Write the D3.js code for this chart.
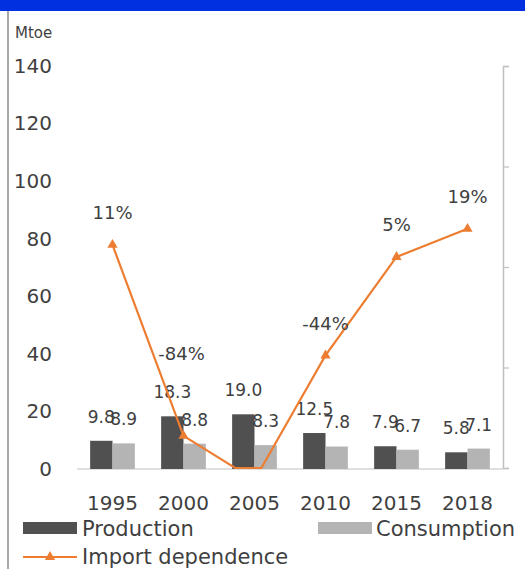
<!DOCTYPE html>
<html>
<head>
<meta charset="utf-8">
<script src="https://cdn.jsdelivr.net/npm/d3@7"></script>
<style>
  html, body { margin: 0; padding: 0; background: #fff; }
  svg { display: block; }
  text { font-family: "DejaVu Sans", sans-serif; fill: #3f3f3f; }
</style>
</head>
<body>
<script>
const years = ["1995", "2000", "2005", "2010", "2015", "2018"];
const production = [9.8, 18.3, 19.0, 12.5, 7.9, 5.8];
const consumption = [8.9, 8.8, 8.3, 7.8, 6.7, 7.1];
const importDependence = [11, -84, -106, -44, 5, 19];
const leftTicks = [0, 20, 40, 60, 80, 100, 120, 140];
const rightTicks = [-100, -50, 0, 50, 100];
const seriesNames = ["Production", "Consumption", "Import dependence"];

const W = 525, H = 569;
const plot = { left: 77, right: 503, top: 66, bottom: 469 };
const colors = { Production: "#505050", Consumption: "#b4b4b4", line: "#ed7d31" };

const svg = d3.select("body").append("svg").attr("width", W).attr("height", H);

// header bar & frame
svg.append("rect").attr("x", 0).attr("y", 0).attr("width", W).attr("height", 11).attr("fill", "#0030e0");
svg.append("line").attr("x1", 8).attr("x2", 8).attr("y1", 11).attr("y2", H)
  .attr("stroke", "#a8a8a8").attr("stroke-width", 2);

const x = d3.scaleBand().domain(years).range([plot.left, plot.right]).paddingInner(0.37).paddingOuter(0.185);
const xs = d3.scaleBand().domain(["Production", "Consumption"]).range([0, x.bandwidth()]);
const yL = d3.scaleLinear().domain([0, 140]).range([plot.bottom, plot.top]);
const yR = d3.scaleLinear().domain([-100, 100]).range([plot.bottom - 1, plot.top]);

// left axis (labels only)
const gL = svg.append("g").attr("transform", `translate(52,0)`)
  .call(d3.axisLeft(yL).tickValues(leftTicks).tickSize(0).tickPadding(0));
gL.select(".domain").remove();
gL.selectAll("text").attr("font-size", 20).attr("fill", "#3f3f3f")
  .style("font-family", '"DejaVu Sans", sans-serif');

svg.append("text").attr("x", 15).attr("y", 38).attr("font-size", 15).text("Mtoe");

// right axis (no labels)
const gR = svg.append("g").attr("transform", `translate(${plot.right},0)`)
  .call(d3.axisRight(yR).tickValues(rightTicks).tickSize(6).tickFormat(""));
gR.select(".domain").attr("stroke", "#c0c0c0").attr("stroke-width", 1.5);
gR.selectAll(".tick line").attr("stroke", "#c0c0c0").attr("stroke-width", 1.2);

// baseline
svg.append("line").attr("x1", plot.left).attr("x2", plot.right)
  .attr("y1", yL(0)).attr("y2", yL(0)).attr("stroke", "#d4d4d4").attr("stroke-width", 1.5);

// bars
const rows = years.map((yr, i) => ({ year: yr, Production: production[i], Consumption: consumption[i] }));
const groups = svg.append("g").selectAll("g").data(rows).join("g")
  .attr("transform", d => `translate(${x(d.year)},0)`);
groups.selectAll("rect").data(d => ["Production", "Consumption"].map(k => ({ key: k, value: d[k] })))
  .join("rect")
  .attr("x", d => xs(d.key)).attr("width", xs.bandwidth())
  .attr("y", d => yL(d.value)).attr("height", d => yL(0) - yL(d.value))
  .attr("fill", d => colors[d.key]);
groups.selectAll("text.val").data(d => ["Production", "Consumption"].map(k => ({ key: k, value: d[k] })))
  .join("text").attr("class", "val")
  .attr("x", d => xs(d.key) + xs.bandwidth() / 2)
  .attr("y", d => yL(d.value) - 24)
  .attr("dy", "0.35em").attr("text-anchor", "middle").attr("font-size", 17)
  .text(d => d3.format(".1f")(d.value));

// x labels
svg.append("g").selectAll("text").data(years).join("text")
  .attr("x", d => x(d) + x.bandwidth() / 2).attr("y", 503).attr("dy", "0.35em")
  .attr("text-anchor", "middle").attr("font-size", 20).text(d => d);

// import dependence line, clamped to plot area like the source chart
const raw = years.map((yr, i) => [x(yr) + x.bandwidth() / 2, yR(importDependence[i])]);
const yMin = yR(100), yMax = yR(-100);
const pts = [];
raw.forEach((p, i) => {
  if (i > 0) {
    const q = raw[i - 1];
    [yMax, yMin].forEach(b => {
      if ((q[1] - b) * (p[1] - b) < 0) {
        const t = (b - q[1]) / (p[1] - q[1]);
        pts.push([q[0] + t * (p[0] - q[0]), b]);
      }
    });
  }
  pts.push([p[0], Math.max(yMin, Math.min(yMax, p[1]))]);
});
svg.append("path").attr("d", d3.line()(pts)).attr("fill", "none")
  .attr("stroke", colors.line).attr("stroke-width", 2.2);

const tri = d3.symbol().type(d3.symbolTriangle).size(45);
const inRange = importDependence.map((v, i) => ({ v, yr: years[i] })).filter(d => d.v >= -100 && d.v <= 100);
svg.append("g").selectAll("path").data(inRange).join("path")
  .attr("d", tri)
  .attr("transform", d => `translate(${x(d.yr) + x.bandwidth() / 2},${yR(d.v)})`)
  .attr("fill", colors.line);
svg.append("g").selectAll("text").data(inRange).join("text")
  .attr("x", d => x(d.yr) + x.bandwidth() / 2 - (d.yr === "2000" ? 2 : 0))
  .attr("y", d => yR(d.v) - (d.yr === "2000" ? 82 : 32))
  .attr("dy", "0.35em").attr("text-anchor", "middle").attr("font-size", 18)
  .text(d => d.v + "%");

// legend
const lg = svg.append("g");
lg.append("rect").attr("x", 23).attr("y", 522).attr("width", 54).attr("height", 12).attr("fill", colors.Production);
lg.append("text").attr("x", 82).attr("y", 529).attr("dy", "0.35em").attr("font-size", 21).text(seriesNames[0]);
lg.append("rect").attr("x", 318).attr("y", 522).attr("width", 54).attr("height", 12).attr("fill", colors.Consumption);
lg.append("text").attr("x", 376).attr("y", 529).attr("dy", "0.35em").attr("font-size", 21).text(seriesNames[1]);
lg.append("line").attr("x1", 23).attr("x2", 77).attr("y1", 557).attr("y2", 557)
  .attr("stroke", colors.line).attr("stroke-width", 2.2);
lg.append("path").attr("d", tri).attr("transform", "translate(50,557)").attr("fill", colors.line);
lg.append("text").attr("x", 82).attr("y", 557).attr("dy", "0.35em").attr("font-size", 21).text(seriesNames[2]);
</script>
</body>
</html>
